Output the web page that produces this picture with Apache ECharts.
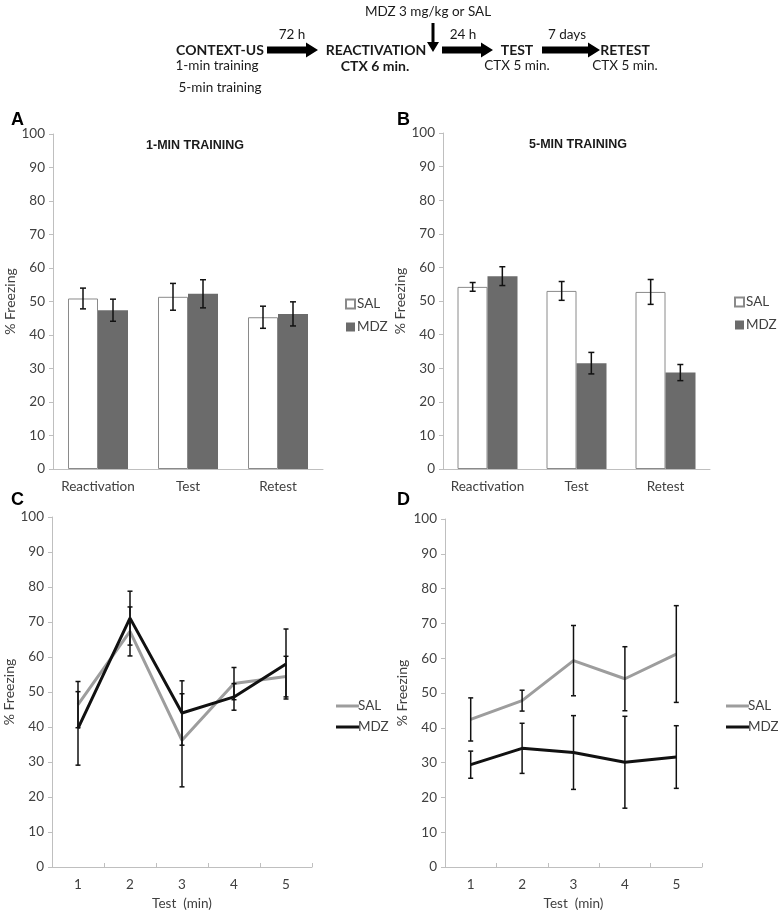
<!DOCTYPE html>
<html>
<head>
<meta charset="utf-8">
<title>Freezing</title>
<script src="https://cdn.jsdelivr.net/npm/echarts@6/dist/echarts.min.js"></script>
<style>
  body { margin: 0; background: #fff; }
  #main { width: 778px; height: 915px; }
</style>
</head>
<body>
<div id="main"></div>
<script>
// bar panels (A, B)
var barCats = ['Reactivation', 'Test', 'Retest'];
var aSal = [50.9, 51.4, 45.3];
var aSalErr = [3.1, 4.0, 3.3];
var aMdz = [47.4, 52.3, 46.3];
var aMdzErr = [3.3, 4.2, 3.6];
var bSal = [54.2, 53.0, 52.7];
var bSalErr = [1.3, 2.8, 3.7];
var bMdz = [57.4, 31.5, 28.7];
var bMdzErr = [2.8, 3.2, 2.4];

// line panels (C, D)
var minCats = ['1', '2', '3', '4', '5'];
var cSal = [46.4, 67.3, 36.2, 52.4, 54.4];
var cSalErr = [6.6, 7.0, 13.3, 4.6, 5.8];
var cMdz = [39.6, 71.1, 44.0, 48.6, 58.0];
var cMdzErr = [10.5, 7.7, 9.2, 3.8, 10.0];
var dSal = [42.4, 47.8, 59.3, 54.1, 61.2];
var dSalErr = [6.2, 3.0, 10.1, 9.2, 13.9];
var dMdz = [29.4, 34.1, 32.9, 30.1, 31.6];
var dMdzErr = [3.9, 7.2, 10.6, 13.2, 9.0];

var FONT = 'Lato';
var AXIS_C = '#bfbfbf';
var TXT_C = '#404040';

function errRender(shift, cap) {
  return function (params, api) {
    var i = api.value(0), v = api.value(1), e = api.value(2);
    var off = api.size([1, 0])[0] * shift;
    var hi = api.coord([i, v + e]);
    var lo = api.coord([i, v - e]);
    var x = hi[0] + off;
    var st = { stroke: '#111', lineWidth: 1.5 };
    return {
      type: 'group',
      children: [
        { type: 'line', shape: { x1: x, y1: hi[1], x2: x, y2: lo[1] }, style: st },
        { type: 'line', shape: { x1: x - cap, y1: hi[1], x2: x + cap, y2: hi[1] }, style: st },
        { type: 'line', shape: { x1: x - cap, y1: lo[1], x2: x + cap, y2: lo[1] }, style: st }
      ]
    };
  };
}

function errData(vals, errs) {
  return vals.map(function (v, i) { return [i, v, errs[i]]; });
}

function xAxisFor(idx, cats, isLine) {
  return {
    type: 'category', gridIndex: idx, data: cats,
    axisLine: { lineStyle: { color: AXIS_C } },
    axisTick: isLine ? { show: true, inside: true, length: 4, lineStyle: { color: AXIS_C } } : { show: false },
    axisLabel: { color: TXT_C, fontFamily: FONT, fontSize: 13.5, margin: 11, interval: 0 },
    name: isLine ? 'Test  (min)' : '',
    nameLocation: 'middle', nameGap: 30,
    nameTextStyle: { color: TXT_C, fontFamily: FONT, fontSize: 13.5 }
  };
}

function yAxisFor(idx) {
  return {
    type: 'value', gridIndex: idx, min: 0, max: 100, interval: 10,
    splitLine: { show: false },
    axisLine: { show: true, lineStyle: { color: AXIS_C } },
    axisTick: { show: true, length: 4, lineStyle: { color: AXIS_C } },
    axisLabel: { color: TXT_C, fontFamily: FONT, fontSize: 13.5, margin: 8 },
    name: '% Freezing', nameLocation: 'middle', nameGap: 36,
    nameTextStyle: { color: TXT_C, fontFamily: FONT, fontSize: 14 }
  };
}

function barSeries(idx, sal, salErr, mdz, mdzErr) {
  return [
    { name: 'SAL-bar', type: 'bar', xAxisIndex: idx, yAxisIndex: idx, data: sal,
      barWidth: 30, barGap: '0%',
      itemStyle: { color: '#ffffff', borderColor: '#8a8a8a', borderWidth: 1 } },
    { name: 'MDZ-bar', type: 'bar', xAxisIndex: idx, yAxisIndex: idx, data: mdz,
      barWidth: 30, barGap: '0%',
      itemStyle: { color: '#6b6b6b' } },
    { type: 'custom', xAxisIndex: idx, yAxisIndex: idx, renderItem: errRender(-1 / 6, 3),
      data: errData(sal, salErr), encode: { x: 0, y: 1 }, z: 10, silent: true },
    { type: 'custom', xAxisIndex: idx, yAxisIndex: idx, renderItem: errRender(1 / 6, 3),
      data: errData(mdz, mdzErr), encode: { x: 0, y: 1 }, z: 10, silent: true }
  ];
}

function lineSeries(idx, sal, salErr, mdz, mdzErr) {
  return [
    { name: 'SAL-line', type: 'line', xAxisIndex: idx, yAxisIndex: idx, data: sal,
      symbol: 'none', lineStyle: { color: '#9d9d9d', width: 3 }, itemStyle: { color: '#9d9d9d' } },
    { name: 'MDZ-line', type: 'line', xAxisIndex: idx, yAxisIndex: idx, data: mdz,
      symbol: 'none', lineStyle: { color: '#111', width: 3 }, itemStyle: { color: '#111' } },
    { type: 'custom', xAxisIndex: idx, yAxisIndex: idx, renderItem: errRender(0, 2.5),
      data: errData(sal, salErr), encode: { x: 0, y: 1 }, z: 10, silent: true },
    { type: 'custom', xAxisIndex: idx, yAxisIndex: idx, renderItem: errRender(0, 2.5),
      data: errData(mdz, mdzErr), encode: { x: 0, y: 1 }, z: 10, silent: true }
  ];
}

function legendFor(left, top, names, isLine) {
  return {
    orient: 'vertical', left: left, top: top, itemGap: isLine ? 7 : 9,
    itemWidth: isLine ? 23 : 9, itemHeight: isLine ? 3 : 9,
    icon: 'rect',
    data: names,
    formatter: function (n) { return n.split('-')[0]; },
    textStyle: { color: TXT_C, fontFamily: FONT, fontSize: 13.5, padding: [0, 0, 0, isLine ? -6 : -3] },
    selectedMode: false
  };
}

function arrow(x0, x1, y) {
  return { type: 'polygon', shape: { points: [
    [x0, y - 3.5], [x1 - 12, y - 3.5], [x1 - 12, y - 7.5], [x1, y],
    [x1 - 12, y + 7.5], [x1 - 12, y + 3.5], [x0, y + 3.5]] }, style: { fill: '#000' } };
}

function label(x, y, text, bold) {
  return { type: 'text', x: x, y: y, style: { text: text, fill: '#1a1a1a',
    font: (bold ? 'bold 14px ' : '13.5px ') + FONT, align: 'center', verticalAlign: 'middle' } };
}

function letter(x, y, t) {
  return { text: t, left: x, top: y, textStyle: { fontFamily: 'Liberation Sans', fontWeight: 'bold', fontSize: 18, color: '#000' } };
}

var chart = echarts.init(document.getElementById('main'));
chart.setOption({
  animation: false,
  title: [
    letter(6, 106, 'A'), letter(392, 106, 'B'), letter(6, 486, 'C'), letter(392, 486, 'D'),
    { text: '1-MIN TRAINING', left: 190, top: 134, textAlign: 'center',
      textStyle: { fontFamily: 'Liberation Sans', fontWeight: 'bold', fontSize: 12.5, color: '#1a1a1a' } },
    { text: '5-MIN TRAINING', left: 573, top: 133, textAlign: 'center',
      textStyle: { fontFamily: 'Liberation Sans', fontWeight: 'bold', fontSize: 12.5, color: '#1a1a1a' } }
  ],
  grid: [
    { left: 53, top: 134, width: 270, height: 335 },
    { left: 443, top: 133, width: 267, height: 336 },
    { left: 52, top: 517, width: 260, height: 350 },
    { left: 445, top: 519, width: 257, height: 348 }
  ],
  xAxis: [xAxisFor(0, barCats, false), xAxisFor(1, barCats, false),
          xAxisFor(2, minCats, true), xAxisFor(3, minCats, true)],
  yAxis: [yAxisFor(0), yAxisFor(1), yAxisFor(2), yAxisFor(3)],
  legend: [
    legendFor(340, 292, ['SAL-bar', 'MDZ-bar'], false),
    legendFor(729, 290, ['SAL-bar', 'MDZ-bar'], false),
    legendFor(331, 694, ['SAL-line', 'MDZ-line'], true),
    legendFor(721, 694, ['SAL-line', 'MDZ-line'], true)
  ],
  series: [].concat(
    barSeries(0, aSal, aSalErr, aMdz, aMdzErr),
    barSeries(1, bSal, bSalErr, bMdz, bMdzErr),
    lineSeries(2, cSal, cSalErr, cMdz, cMdzErr),
    lineSeries(3, dSal, dSalErr, dMdz, dMdzErr)
  ),
  graphic: [
    label(220, 50, 'CONTEXT-US', true),
    label(217, 66, '1-min training', false),
    label(220, 88, '5-min training', false),
    arrow(267, 318, 50),
    label(292, 35, '72 h', false),
    label(376, 50, 'REACTIVATION', true),
    label(375, 66, 'CTX 6 min.', true),
    label(428, 12, 'MDZ 3 mg/kg or SAL', false),
    { type: 'polygon', shape: { points: [[431.5, 23], [434.5, 23], [434.5, 42], [439, 42], [433, 52], [427, 42], [431.5, 42]] },
      style: { fill: '#000' } },
    arrow(442, 493, 50),
    label(463, 35, '24 h', false),
    label(517, 50, 'TEST', true),
    label(517, 66, 'CTX 5 min.', false),
    arrow(542, 600, 50),
    label(567, 35, '7 days', false),
    label(625, 50, 'RETEST', true),
    label(625, 66, 'CTX 5 min.', false)
  ]
});
</script>
</body>
</html>
